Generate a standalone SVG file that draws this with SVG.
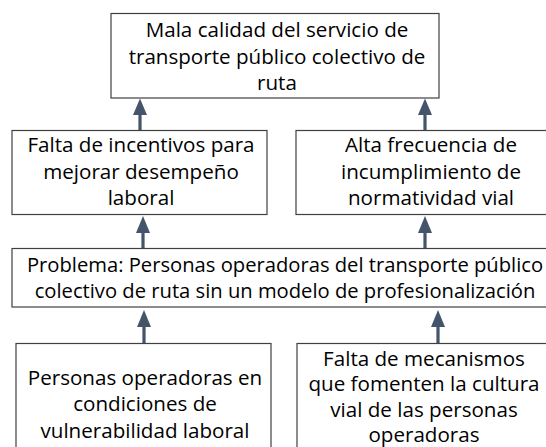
<svg xmlns="http://www.w3.org/2000/svg" width="546" height="447" viewBox="0 0 546 447">
<style>
.box{fill:#fff;stroke:#404040;stroke-width:1.2}
.t{font-family:"Open Sans","Noto Sans","Liberation Sans",sans-serif;font-size:20.6px;fill:#000;text-anchor:middle}
.p{font-size:20.2px}
.stem{stroke:#44546A;stroke-width:3.2}
.head{fill:#44546A}
</style>
<rect width="546" height="447" fill="#fff"/>
<g id="connectors">
<line class="stem" x1="140" y1="130" x2="140" y2="110"/><polygon class="head" points="140,98.5 133,115 147,115"/>
<line class="stem" x1="425" y1="130" x2="425" y2="110"/><polygon class="head" points="425,98.5 418,115 432,115"/>
<line class="stem" x1="143" y1="248" x2="143" y2="228"/><polygon class="head" points="143,216 136,233 150,233"/>
<line class="stem" x1="425" y1="248" x2="425" y2="228"/><polygon class="head" points="425,216 418,233 432,233"/>
<line class="stem" x1="144" y1="343" x2="144" y2="322"/><polygon class="head" points="144,310 137,327 151,327"/>
<line class="stem" x1="438" y1="343" x2="438" y2="322"/><polygon class="head" points="438,310 431,327 445,327"/>
</g>
<g id="top">
<rect class="box" x="111" y="13.5" width="328" height="84.5"/>
<text class="t" x="277" y="37">Mala calidad del servicio de</text>
<text class="t" x="277" y="64">transporte público colectivo de</text>
<text class="t" x="277" y="90">ruta</text>
</g>
<g id="incentivos">
<rect class="box" x="12" y="130.5" width="255" height="84"/>
<text class="t" x="141" y="152">Falta de incentivos para</text>
<text class="t" x="141" y="178.5">mejorar desempeño</text>
<text class="t" x="141" y="205">laboral</text>
</g>
<g id="normatividad">
<rect class="box" x="296" y="130.5" width="262" height="84"/>
<text class="t" x="431" y="152">Alta frecuencia de</text>
<text class="t" x="431" y="178.5">incumplimiento de</text>
<text class="t" x="431" y="205">normatividad vial</text>
</g>
<g id="problema">
<rect class="box" x="12" y="248.5" width="552" height="58.5"/>
<text class="t p" x="285" y="272">Problema: Personas operadoras del transporte público</text>
<text class="t p" x="285" y="297.5">colectivo de ruta sin un modelo de profesionalización</text>
</g>
<g id="vulnerabilidad">
<rect class="box" x="16" y="343.5" width="255" height="115"/>
<text class="t" x="145" y="384.5">Personas operadoras en</text>
<text class="t" x="145" y="411">condiciones de</text>
<text class="t" x="145" y="437.5">vulnerabilidad laboral</text>
</g>
<g id="mecanismos">
<rect class="box" x="297" y="343.5" width="256" height="115"/>
<text class="t" x="424" y="365.5">Falta de mecanismos</text>
<text class="t" x="424" y="391">que fomenten la cultura</text>
<text class="t" x="424" y="416.5">vial de las personas</text>
<text class="t" x="424" y="442">operadoras</text>
</g>
</svg>
